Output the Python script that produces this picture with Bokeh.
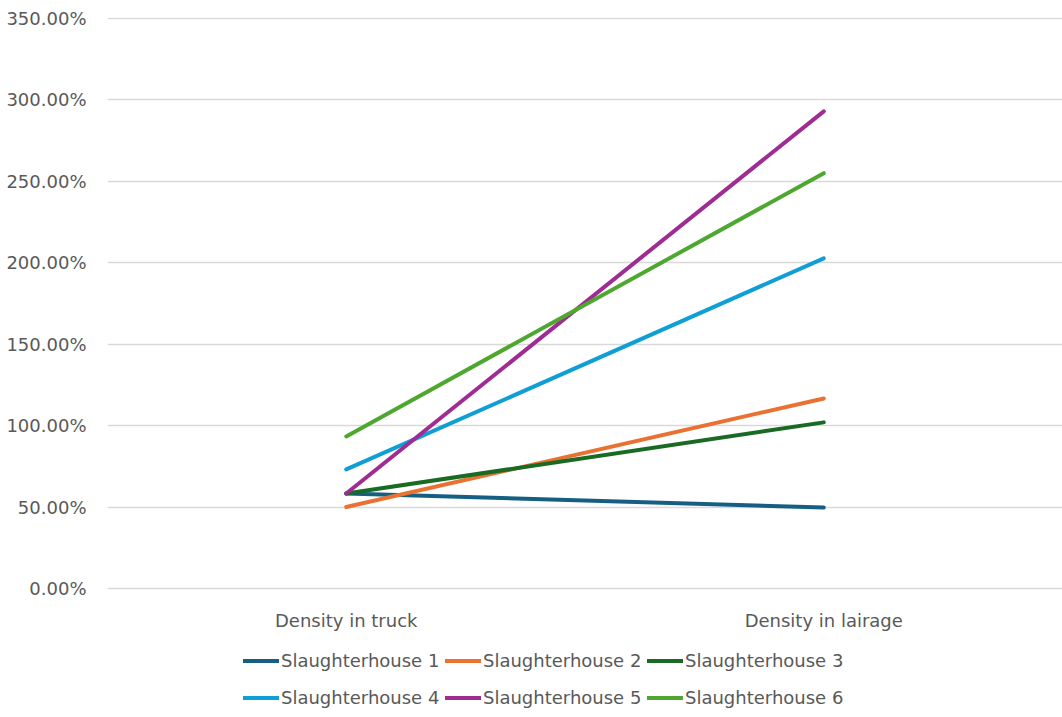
from bokeh.plotting import figure
from bokeh.models import (FactorRange, Range1d, FixedTicker, NumeralTickFormatter,
                          Legend, LegendItem)
from bokeh.embed import file_html
from bokeh.resources import INLINE

categories = ["Density in truck", "Density in lairage"]
series_names = ["Slaughterhouse 1", "Slaughterhouse 2", "Slaughterhouse 3",
                "Slaughterhouse 4", "Slaughterhouse 5", "Slaughterhouse 6"]
sh1 = [0.583, 0.497]
sh2 = [0.500, 1.167]
sh3 = [0.583, 1.020]
sh4 = [0.731, 2.027]
sh5 = [0.583, 2.930]
sh6 = [0.934, 2.550]
series_values = [sh1, sh2, sh3, sh4, sh5, sh6]
colors = ["#156082", "#E97132", "#196B24", "#0F9ED5", "#A02B93", "#4EA72E"]
y_ticks = [0, 0.5, 1.0, 1.5, 2.0, 2.5, 3.0, 3.5]

FONT = "DejaVu Sans"
TXT = "#595959"

# frame spans y 17..717 px; 0 at 588 px, 3.5 at 18 px
p = figure(width=1062, height=717, x_range=FactorRange(*categories),
           y_range=Range1d(-0.7921, 3.5061), output_backend="svg",
           toolbar_location=None,
           min_border_left=107, min_border_right=0, min_border_top=17,
           min_border_bottom=0)
p.outline_line_color = None
p.background_fill_color = "white"
p.border_fill_color = "white"
p.x_range.range_padding = 0

p.yaxis.ticker = FixedTicker(ticks=y_ticks)
p.yaxis.formatter = NumeralTickFormatter(format="0.00%")
for ax in (p.xaxis[0], p.yaxis[0]):
    ax.axis_line_color = None
    ax.major_tick_line_color = None
    ax.minor_tick_line_color = None
    ax.major_label_text_font = FONT
    ax.major_label_text_font_size = "18px"
    ax.major_label_text_color = TXT
p.yaxis.major_label_standoff = 15
p.xaxis.fixed_location = 0
p.xaxis.major_label_standoff = 16
p.xgrid.grid_line_color = None
p.ygrid.grid_line_color = "#d9d9d9"
p.ygrid.grid_line_width = 1.5

items = []
for name, vals, c in zip(series_names, series_values, colors):
    r = p.line(x=categories, y=vals, line_color=c, line_width=4, line_cap="round")
    items.append(LegendItem(label=name, renderers=[r]))

legend = Legend(items=items, orientation="horizontal", ncols=3,
                location=(136, 3), glyph_width=36, glyph_height=33,
                label_height=33, label_width=160, label_standoff=2, spacing=4,
                padding=0, margin=0, border_line_color=None,
                background_fill_alpha=0,
                label_text_font=FONT, label_text_font_size="18px",
                label_text_color=TXT)
p.add_layout(legend, "center")

open("out.html", "w").write(file_html(p, INLINE))
